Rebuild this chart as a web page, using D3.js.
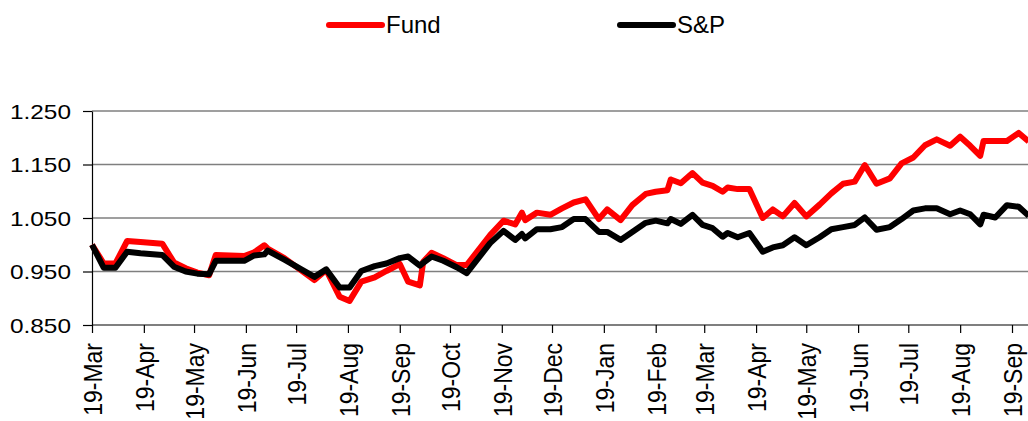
<!DOCTYPE html>
<html>
<head>
<meta charset="utf-8">
<title>Fund vs S&amp;P</title>
<script src="https://cdn.jsdelivr.net/npm/d3@7"></script>
<style>
  body { margin: 0; background: #fff; }
  svg { display: block; font-family: "Liberation Sans", Arial, sans-serif; }
  .grid line { stroke: #7f7f7f; stroke-width: 1.5; }
  .axis path, .axis line { stroke: #000; stroke-width: 1.2; }
  .axis text { fill: #000; }
</style>
</head>
<body>
<div id="chart"></div>
<script>
// weekly values
var dates = ["2019-03-19","2019-03-26","2019-04-02","2019-04-09","2019-04-17","2019-04-30","2019-05-07","2019-05-14",
  "2019-05-21","2019-05-28","2019-06-01","2019-06-18","2019-06-24","2019-06-30","2019-07-02","2019-07-12","2019-07-30",
  "2019-08-06","2019-08-14","2019-08-20","2019-08-27","2019-09-04","2019-09-11","2019-09-19","2019-09-24","2019-10-01",
  "2019-10-03","2019-10-08","2019-10-15","2019-10-23","2019-10-29","2019-11-12","2019-11-20","2019-11-27","2019-12-01",
  "2019-12-03","2019-12-10","2019-12-18","2019-12-25","2020-01-01","2020-01-08","2020-01-16","2020-01-21","2020-01-29",
  "2020-02-05","2020-02-13","2020-02-19","2020-02-26","2020-02-28","2020-03-05","2020-03-12","2020-03-18","2020-03-24",
  "2020-03-30","2020-04-02","2020-04-08","2020-04-15","2020-04-23","2020-04-29","2020-05-05","2020-05-12","2020-05-19",
  "2020-05-27","2020-06-03","2020-06-10","2020-06-17","2020-06-23","2020-06-30","2020-07-08","2020-07-15","2020-07-22",
  "2020-07-29","2020-08-05","2020-08-13","2020-08-19","2020-08-25","2020-08-31","2020-09-02","2020-09-09","2020-09-16",
  "2020-09-23","2020-09-29"];
var fund = [1.000,0.965,0.965,1.007,1.005,1.002,0.967,0.956,0.948,0.943,0.981,0.979,0.986,0.999,0.993,0.975,0.934,
  0.953,0.903,0.895,0.931,0.939,0.951,0.964,0.931,0.924,0.968,0.985,0.975,0.962,0.962,1.018,1.045,1.038,1.060,
  1.046,1.060,1.056,1.068,1.079,1.085,1.048,1.066,1.046,1.074,1.095,1.099,1.102,1.122,1.115,1.134,1.116,1.110,
  1.099,1.107,1.104,1.104,1.050,1.066,1.053,1.078,1.053,1.075,1.096,1.114,1.118,1.149,1.114,1.124,1.152,1.163,
  1.186,1.197,1.185,1.202,1.185,1.166,1.194,1.194,1.194,1.209,1.193];
var sp = [1.000,0.957,0.957,0.987,0.984,0.981,0.959,0.950,0.946,0.945,0.970,0.970,0.980,0.982,0.989,0.972,0.940,
  0.954,0.920,0.920,0.951,0.960,0.965,0.975,0.978,0.961,0.966,0.978,0.970,0.958,0.947,1.003,1.026,1.009,1.020,
  1.012,1.029,1.029,1.033,1.048,1.048,1.024,1.024,1.009,1.024,1.041,1.045,1.040,1.048,1.039,1.056,1.037,1.031,
  1.015,1.022,1.014,1.022,0.987,0.995,0.999,1.014,0.999,1.014,1.029,1.033,1.037,1.051,1.028,1.033,1.048,1.064,
  1.068,1.068,1.057,1.064,1.057,1.038,1.056,1.051,1.074,1.071,1.054];
var seriesNames = ["Fund", "S&P"];
var seriesColors = ["#ff0000", "#000000"];
var yTicks = [0.85, 0.95, 1.05, 1.15, 1.25];

var width = 1028, height = 421;
var parse = d3.timeParse("%Y-%m-%d");
var x = d3.scaleTime()
    .domain([parse("2019-03-19"), parse("2020-09-19")])
    .range([92, 1012]);
var y = d3.scaleLinear().domain([0.85, 1.25]).range([325, 111]);

var svg = d3.select("#chart").append("svg")
    .attr("width", width).attr("height", height);

// gridlines
svg.append("g").attr("class", "grid")
  .selectAll("line").data(yTicks.slice(1)).join("line")
    .attr("x1", 92).attr("x2", width)
    .attr("y1", function(d) { return y(d); })
    .attr("y2", function(d) { return y(d); });

// y axis
var yAxis = svg.append("g").attr("class", "axis")
    .attr("transform", "translate(92,0)")
    .call(d3.axisLeft(y).tickValues(yTicks).tickFormat(d3.format(".3f")).tickSize(9).tickSizeOuter(0));
yAxis.selectAll("text")
    .attr("x", null).attr("dy", null)
    .style("font-size", "20px")
    .attr("text-anchor", "end")
    .attr("transform", "translate(-21,7) scale(1.22,1)");

// x axis, ticks on the 19th of each month
var xTicks = d3.timeMonth.range(new Date(2019, 2, 1), new Date(2020, 9, 1))
    .map(function(d) { return d3.timeDay.offset(d, 18); });
var xAxis = svg.append("g").attr("class", "axis")
    .attr("transform", "translate(0,325)")
    .call(d3.axisBottom(x).tickValues(xTicks).tickFormat(d3.timeFormat("%d-%b")).tickSize(8).tickSizeOuter(0));
xAxis.select(".domain").attr("d", "M92,0H" + width);
xAxis.selectAll("text")
    .style("font-size", "23px")
    .attr("text-anchor", "end")
    .attr("transform", "rotate(-90) scale(1,1.15)")
    .attr("x", -18).attr("y", 0).attr("dy", "0.36em");

// lines
var rows = dates.map(function(d, i) { return {date: parse(d), fund: fund[i], sp: sp[i]}; });
var keys = ["fund", "sp"];
keys.forEach(function(k, i) {
  svg.append("path")
    .datum(rows)
    .attr("fill", "none")
    .attr("stroke", seriesColors[i])
    .attr("stroke-width", 6)
    .attr("stroke-linejoin", "round")
    .attr("d", d3.line().x(function(d) { return x(d.date); }).y(function(d) { return y(d[k]); }));
});

// legend
var legendX = [329, 620];
var legend = svg.append("g").selectAll("g").data(seriesNames).join("g")
    .attr("transform", function(d, i) { return "translate(" + legendX[i] + ",25)"; });
legend.append("line")
    .attr("x1", 0).attr("x2", 53)
    .attr("stroke", function(d, i) { return seriesColors[i]; })
    .attr("stroke-width", 6)
    .attr("stroke-linecap", "round");
legend.append("text")
    .attr("x", 57).attr("y", 8)
    .style("font-size", "24px")
    .text(function(d) { return d; });
</script>
</body>
</html>
